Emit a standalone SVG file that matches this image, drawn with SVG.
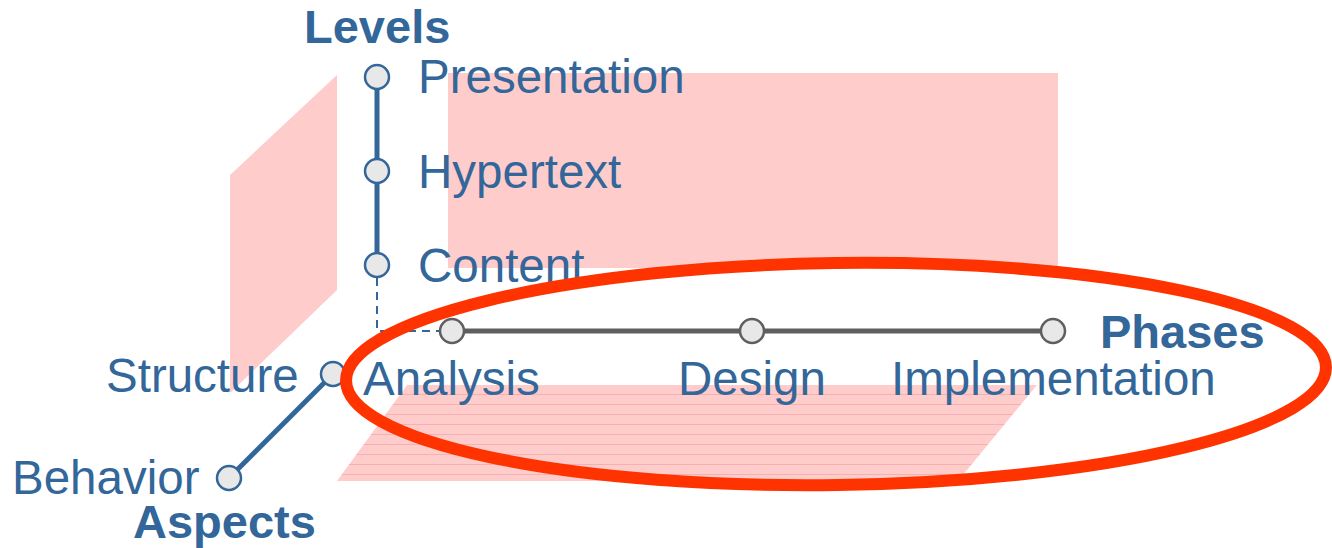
<svg xmlns="http://www.w3.org/2000/svg" width="1332" height="548" viewBox="0 0 1332 548">
  <defs>
    <pattern id="stripes" x="0" y="385" width="20" height="10" patternUnits="userSpaceOnUse">
      <rect width="20" height="10" fill="#FFCCCC"/>
      <line x1="0" y1="9.5" x2="20" y2="9.5" stroke="#F7B0B0" stroke-width="1"/>
    </pattern>
    <style>
      .plane { fill: #FFCCCC; }
      .lbl { font-family: "Liberation Sans", Arial, sans-serif; font-size: 47.5px; fill: #336699; }
      .title { font-family: "Liberation Sans", Arial, sans-serif; font-size: 47px; font-weight: bold; fill: #336699; }
      .bnode { fill: #E8E8E8; stroke: #336699; stroke-width: 2.5; }
      .gnode { fill: #E8E8E8; stroke: #5F5F5F; stroke-width: 2.5; }
      .baxis { stroke: #336699; stroke-width: 5; fill: none; }
      .gaxis { stroke: #5F5F5F; stroke-width: 5; fill: none; }
      .dash { stroke: #336699; stroke-width: 2; stroke-dasharray: 8 6; fill: none; }
    </style>
  </defs>

  <g id="planes">
    <polygon class="plane" points="230,175 337,75 337,290 230,393"/>
    <rect class="plane" x="448" y="73" width="610" height="195"/>
    <polygon points="407,385 1037,385 958,481 337,481" fill="url(#stripes)"/>
  </g>

  <g id="connectors">
    <line class="baxis" x1="377" y1="77" x2="377" y2="265"/>
    <polyline class="dash" points="377,278 377,331 439,331"/>
    <line class="gaxis" x1="452" y1="331" x2="1053" y2="331"/>
    <line class="baxis" x1="333" y1="374" x2="229" y2="478"/>
  </g>

  <g id="levels">
    <text class="title" x="304" y="43">Levels</text>
  </g>
  <g id="node-presentation">
    <circle class="bnode" cx="377" cy="77" r="12"/>
    <text class="lbl" x="418" y="93">Presentation</text>
  </g>
  <g id="node-hypertext">
    <circle class="bnode" cx="377" cy="171" r="12"/>
    <text class="lbl" x="418" y="188">Hypertext</text>
  </g>
  <g id="node-content">
    <circle class="bnode" cx="377" cy="265" r="12"/>
    <text class="lbl" x="418" y="282">Content</text>
  </g>

  <g id="phases">
    <text class="title" x="1100" y="348">Phases</text>
  </g>
  <g id="node-analysis">
    <circle class="gnode" cx="452" cy="331" r="12"/>
    <text class="lbl" x="363" y="395">Analysis</text>
  </g>
  <g id="node-design">
    <circle class="gnode" cx="752" cy="331" r="12"/>
    <text class="lbl" x="678" y="395">Design</text>
  </g>
  <g id="node-implementation">
    <circle class="gnode" cx="1053" cy="331" r="12"/>
    <text class="lbl" x="891" y="395">Implementation</text>
  </g>

  <g id="aspects">
    <text class="title" x="133" y="538">Aspects</text>
  </g>
  <g id="node-structure">
    <circle class="bnode" cx="333" cy="374" r="12"/>
    <text class="lbl" x="106" y="392">Structure</text>
  </g>
  <g id="node-behavior">
    <circle class="bnode" cx="229" cy="478" r="12"/>
    <text class="lbl" x="12" y="494">Behavior</text>
  </g>

  <g id="highlight">
    <ellipse cx="836" cy="374" rx="490" ry="111" fill="none" stroke="#FF3300" stroke-width="12" transform="rotate(-0.8 836 374)"/>
  </g>
</svg>
